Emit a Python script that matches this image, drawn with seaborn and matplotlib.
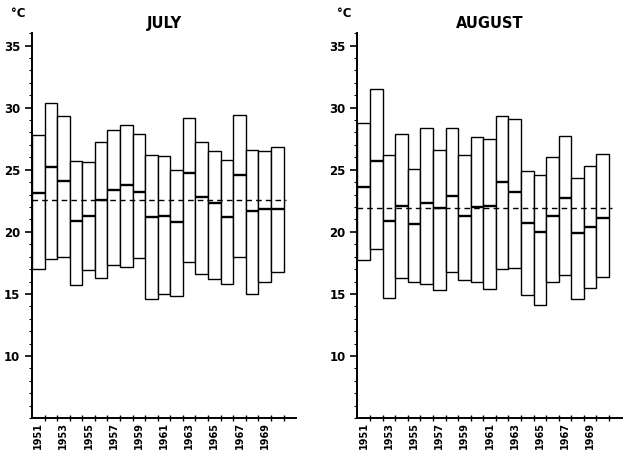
import numpy as np
import matplotlib
matplotlib.use("Agg")
import matplotlib.pyplot as plt
import seaborn as sns
from matplotlib.ticker import MultipleLocator, FixedLocator

years = list(range(1951, 1971))

july_max = [27.8, 30.4, 29.3, 25.7, 25.6, 27.2, 28.2, 28.6, 27.9, 26.2,
            26.1, 25.0, 29.2, 27.2, 26.5, 25.8, 29.4, 26.6, 26.5, 26.8]
july_mean = [23.1, 25.2, 24.1, 20.9, 21.3, 22.6, 23.4, 23.8, 23.2, 21.2,
             21.3, 20.8, 24.7, 22.8, 22.3, 21.2, 24.6, 21.7, 21.8, 21.8]
july_min = [17.0, 17.8, 18.0, 15.7, 16.9, 16.3, 17.3, 17.2, 17.9, 14.6,
            15.0, 14.8, 17.6, 16.6, 16.2, 15.8, 18.0, 15.0, 16.0, 16.8]
july_avg = 22.55

aug_max = [28.8, 31.5, 26.2, 27.9, 25.1, 28.4, 26.6, 28.4, 26.2, 27.6,
           27.5, 29.3, 29.1, 24.9, 24.6, 26.0, 27.7, 24.3, 25.3, 26.3]
aug_mean = [23.6, 25.7, 20.9, 22.1, 20.6, 22.3, 21.9, 22.9, 21.3, 22.0,
            22.1, 24.0, 23.2, 20.7, 20.0, 21.3, 22.7, 19.9, 20.4, 21.1]
aug_min = [17.7, 18.6, 14.7, 16.3, 16.0, 15.8, 15.3, 16.8, 16.1, 16.0,
           15.4, 17.0, 17.1, 14.9, 14.1, 16.0, 16.5, 14.6, 15.5, 16.4]
aug_avg = 21.95

sns.set_style("ticks", {"xtick.color": "black", "ytick.color": "black",
                        "text.color": "black", "axes.edgecolor": "black"})
plt.rcParams["font.family"] = ["DejaVu Sans"]

fig = plt.figure(figsize=(6.26, 4.54), dpi=100)
ax1 = fig.add_axes([0.051, 0.079, 0.422, 0.848])
ax2 = fig.add_axes([0.571, 0.079, 0.422, 0.848])


def panel(ax, title, mx, mean, mn, avg):
    x = np.arange(len(years))
    lo = np.array(mn)
    hi = np.array(mx)
    ax.bar(x, hi - lo, bottom=lo, width=1.0, align="edge",
           color="white", edgecolor="black", linewidth=1.0, zorder=2)
    ax.hlines(mean, x, x + 1, color="black", linewidth=1.7, zorder=3)
    ax.plot([0, 20.2], [avg, avg], color="black", linewidth=1.0,
            linestyle=(0, (4, 3)), zorder=4)

    ax.set_xlim(0, 21)
    ax.set_ylim(5, 36)
    ax.yaxis.set_major_locator(FixedLocator([10, 15, 20, 25, 30, 35]))
    ax.yaxis.set_minor_locator(MultipleLocator(1))
    ax.set_xticks(x[::2] + 0.5)
    ax.set_xticklabels([str(y) for y in years[::2]], rotation=90,
                       fontsize=7, fontweight="bold", color="black")
    ax.xaxis.set_minor_locator(FixedLocator(np.arange(1, 21)))
    ax.tick_params(axis="x", which="major", length=0, pad=3)
    ax.tick_params(axis="x", which="minor", length=4, direction="inout", width=1)
    ax.tick_params(axis="y", which="major", length=5, width=1.2, labelsize=8.5,
                   labelcolor="black")
    ax.tick_params(axis="y", which="minor", length=2.5, width=0.8)
    for lab in ax.get_yticklabels():
        lab.set_fontweight("bold")
    sns.despine(ax=ax)
    for s in ["left", "bottom"]:
        ax.spines[s].set_linewidth(1.4)
        ax.spines[s].set_color("black")
    ax.set_title(title, fontsize=10.5, fontweight="bold", pad=4, color="black")
    ax.text(-0.05, 1.035, "°C", transform=ax.transAxes, fontsize=8.5,
            fontweight="bold", ha="center", va="bottom", color="black")


panel(ax1, "JULY", july_max, july_mean, july_min, july_avg)
panel(ax2, "AUGUST", aug_max, aug_mean, aug_min, aug_avg)

fig.savefig("out.png", dpi=100)
